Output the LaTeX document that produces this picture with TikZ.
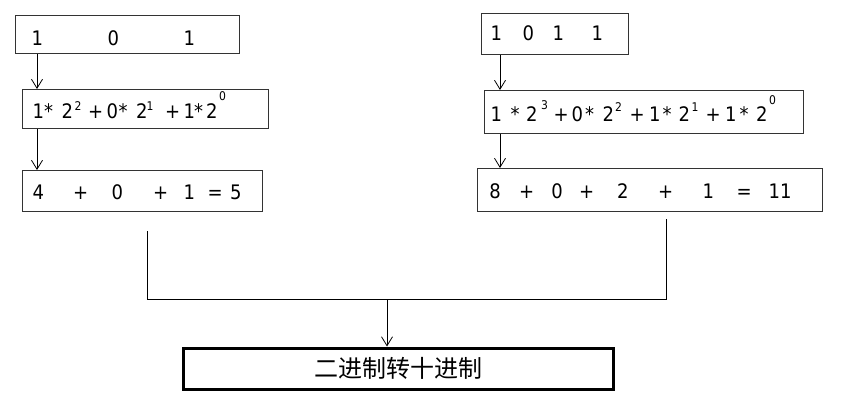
\documentclass[tikz,border=0pt]{standalone}
\usepackage{fontspec}
\usetikzlibrary{arrows.meta}
\newfontfamily\numfont[FakeStretch=0.9]{DejaVu Sans}
\newfontfamily\cjk{Noto Sans CJK SC}
\newcommand\tk[2]{\makebox[0pt][l]{\hspace*{#1pt}#2}}
\newcommand\spr[2]{\raisebox{#1pt}{\fontsize{12}{12}\selectfont #2}}
\newcommand\rowbox[2]{\makebox[#1pt][l]{#2}}
\tikzset{
  numbox/.style={draw=black!80, line width=1.2pt, anchor=north west, inner sep=0pt,
    font=\numfont\fontsize{20}{20}\selectfont, text depth=0pt},
  finalbox/.style={draw=black, line width=3pt, inner sep=0pt,
    font=\cjk\fontsize{24}{24}\selectfont},
  conn/.style={draw=black, line width=0.8pt},
  arr/.style={conn, -{Straight Barb[length=9pt,width=11pt]}}
}
\begin{document}
\begin{tikzpicture}[x=1pt,y=-1pt]
\useasboundingbox[fill=white] (0,0) rectangle (845,413);

% left column
\node[numbox, minimum width=224pt, minimum height=38pt, text height=22pt] (L1) at (15,15)
  {\rowbox{224}{\tk{16}{1}\tk{92}{0}\tk{168}{1}}};
\node[numbox, minimum width=246pt, minimum height=39pt, text height=19pt] (L2) at (22,89)
  {\rowbox{246}{\tk{10}{1}\tk{21.5}{*}\tk{39}{2}\tk{52}{\spr{8}{2}}\tk{65.5}{+}\tk{84}{0}\tk{96}{*}\tk{113.5}{2}\tk{124}{\spr{8}{1}}\tk{142.5}{+}\tk{161}{1}\tk{171.5}{*}\tk{183.5}{2}\tk{196.5}{\spr{18}{0}}}};
\node[numbox, minimum width=240pt, minimum height=41pt, text height=17pt] (L3) at (22,170)
  {\rowbox{240}{\tk{10}{4}\tk{50.5}{+}\tk{89}{0}\tk{130.5}{+}\tk{161}{1}\tk{185}{=}\tk{207.5}{5}}};

% right column
\node[numbox, minimum width=147pt, minimum height=41pt, text height=13pt] (R1) at (481,13)
  {\rowbox{147}{\tk{9}{1}\tk{41}{0}\tk{71}{1}\tk{110}{1}}};
\node[numbox, minimum width=319pt, minimum height=43pt, text height=19pt] (R2) at (484,90)
  {\rowbox{319}{\tk{6}{1}\tk{26}{*}\tk{41.5}{2}\tk{56.5}{\spr{12}{3}}\tk{69}{+}\tk{87}{0}\tk{100.5}{*}\tk{118}{2}\tk{130.5}{\spr{10}{2}}\tk{145}{+}\tk{164.5}{1}\tk{178}{*}\tk{194}{2}\tk{207}{\spr{10}{1}}\tk{221}{+}\tk{240.5}{1}\tk{255}{*}\tk{271.5}{2}\tk{284.5}{\spr{17}{0}}}};
\node[numbox, minimum width=345pt, minimum height=43pt, text height=17pt] (R3) at (477,168)
  {\rowbox{345}{\tk{11.8}{8}\tk{41.5}{+}\tk{73.8}{0}\tk{101.5}{+}\tk{139.5}{2}\tk{180.5}{+}\tk{225}{1}\tk{259}{=}\tk{291}{11}}};

% result
\node[finalbox, minimum width=430pt, minimum height=41pt] (F) at (398,368.5) {二进制转十进制};

% arrows between steps
\draw[arr] (L1.south west -| 37,0) -- (L2.north west -| 37,0);
\draw[arr] (L2.south west -| 37,0) -- (L3.north west -| 37,0);
\draw[arr] (R1.south west -| 500,0) -- (R2.north west -| 500,0);
\draw[arr] (R2.south west -| 500,0) -- (R3.north west -| 500,0);

% merge lines
\coordinate (lt) at (147,231);
\coordinate (lb) at (147,299);
\coordinate (rt) at (666,219);
\coordinate (rb) at (666,299);
\coordinate (mid) at (387,299);
\draw[conn] (lt) -- (lb) -- (rb) -- (rt);
\draw[arr] (mid) -- (mid |- F.north);
\end{tikzpicture}
\end{document}
